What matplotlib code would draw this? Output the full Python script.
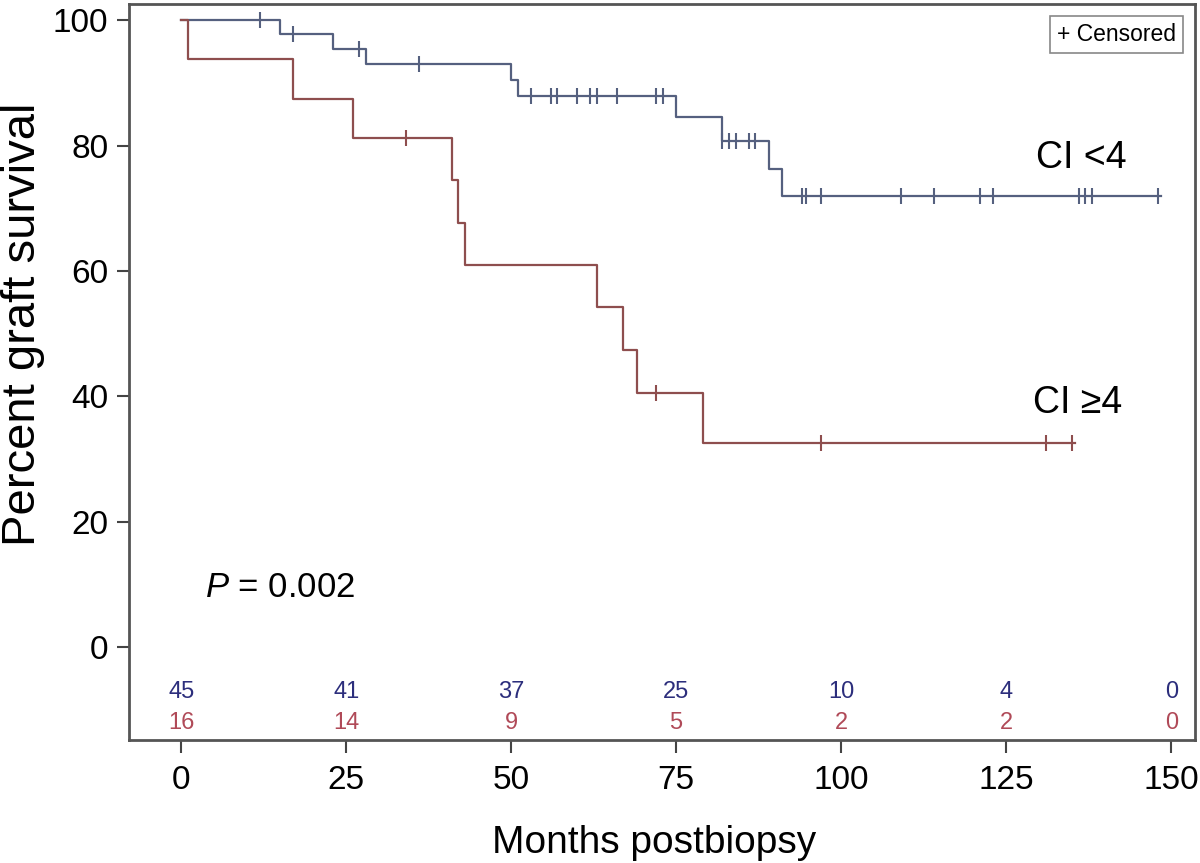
import matplotlib
matplotlib.use("Agg")
import matplotlib.pyplot as plt
import numpy as np

plt.rcParams['font.family'] = ['Liberation Sans', 'DejaVu Sans']
plt.rcParams['mathtext.fontset'] = 'custom'
plt.rcParams['mathtext.rm'] = 'Liberation Sans'
plt.rcParams['mathtext.it'] = 'Liberation Sans:italic'

# ---- data ----
low_times = [0, 15, 23, 28, 50, 51, 75, 82, 89, 91]
low_surv = [100, 97.8, 95.4, 93.1, 90.5, 87.9, 84.5, 80.8, 76.3, 71.9]
low_end = 148.5
low_censor = [12, 17, 27, 36, 53, 56, 57, 60, 62, 63, 66, 72, 73,
              82, 83, 84, 86, 87, 94, 94.7, 97, 109, 114, 121, 123,
              136, 137, 138, 148]

high_times = [0, 1, 17, 26, 41, 42, 43, 63, 67, 69, 79]
high_surv = [100, 93.75, 87.5, 81.25, 74.5, 67.7, 60.9, 54.2, 47.4, 40.6, 32.5]
high_end = 135.5
high_censor = [34, 72, 97, 131, 135]

risk_times = [0, 25, 50, 75, 100, 125, 150]
risk_low = [45, 41, 37, 25, 10, 4, 0]
risk_high = [16, 14, 9, 5, 2, 2, 0]

x_ticks = [0, 25, 50, 75, 100, 125, 150]
y_ticks = [0, 20, 40, 60, 80, 100]

blue_line = '#55607f'
red_line = '#8e4e4e'
blue_num = '#2c2e7c'
red_num = '#b04a58'


def surv_at(t, times, surv):
    idx = np.searchsorted(times, t, side='right') - 1
    return np.asarray(surv)[idx]


fig = plt.figure(figsize=(12, 8.63), dpi=100)
ax = fig.add_axes([0.1075, 0.1425, 0.8883, 0.8529])

for times, surv, end, cens, col in [
        (low_times, low_surv, low_end, low_censor, blue_line),
        (high_times, high_surv, high_end, high_censor, red_line)]:
    xs = list(times) + [end]
    ys = list(surv) + [surv[-1]]
    ax.step(xs, ys, where='post', color=col, lw=1.6)
    cy = surv_at(np.array(cens), times, surv)
    ax.plot(cens, cy, linestyle='none', marker='|', markersize=11,
            markeredgewidth=1.5, color=col)

for t, n in zip(risk_times, risk_low):
    ax.text(t, -7.2, str(n), color=blue_num, fontsize=17, ha='center', va='center')
for t, n in zip(risk_times, risk_high):
    ax.text(t, -12.1, str(n), color=red_num, fontsize=17, ha='center', va='center')

ax.text(129.5, 78.0, 'CI <4', fontsize=27, ha='left', va='center')
ax.text(129.0, 39.0, 'CI \u22654', fontsize=27, ha='left', va='center')
ax.text(3.6, 9.6, '$\\it{P}$ = 0.002', fontsize=25, ha='left', va='center')

ax.text(0.982, 0.974, '+ Censored', transform=ax.transAxes, fontsize=16.5,
        ha='right', va='top',
        bbox=dict(boxstyle='square,pad=0.3', fc='white', ec='#888888', lw=1.2))

ax.set_xlim(-7.9, 153.6)
ax.set_ylim(-14.8, 102.6)
ax.set_xticks(x_ticks)
ax.set_yticks(y_ticks)
ax.tick_params(direction='out', length=9, width=1.5, color='#444444',
               labelsize=24, pad=6)
ax.tick_params(axis='x', pad=9)
for s in ax.spines.values():
    s.set_color('#555555')
    s.set_linewidth(2)

ax.set_xlabel('Months postbiopsy', fontsize=28)
ax.xaxis.set_label_coords(0.493, -0.115)
ax.set_ylabel('Percent graft survival', fontsize=34)
ax.yaxis.set_label_coords(-0.079, 0.565)

fig.savefig('out.png', dpi=100)
